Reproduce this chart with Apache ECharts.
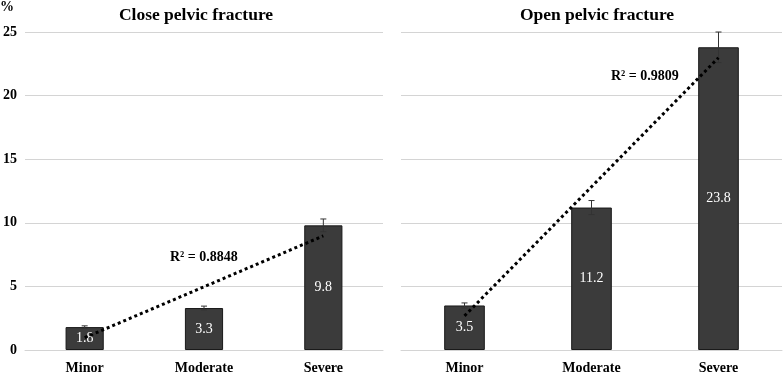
<!DOCTYPE html>
<html>
<head>
<meta charset="utf-8">
<script src="https://cdn.jsdelivr.net/npm/echarts@6/dist/echarts.min.js"></script>
<style>
  html, body { margin: 0; padding: 0; background: #fff; }
  #main { width: 784px; height: 375px; }
</style>
</head>
<body>
<div id="main"></div>
<script>
// 数据
var categories = ['Minor', 'Moderate', 'Severe'];
var closeValues = [1.8, 3.3, 9.8];
var closeErr = [0.1, 0.15, 0.5];
var closeTrend = [0.97, 4.97, 8.97];
var openValues = [3.5, 11.2, 23.8];
var openErr = [0.2, 0.55, 1.2];
var openTrend = [2.68, 12.83, 22.98];
var yTicks = [0, 5, 10, 15, 20, 25];

var serif = '"Liberation Serif", "DejaVu Serif", serif';
var barColor = '#3b3b3b';
var gridColor = '#d4d4d4';

var chart = echarts.init(document.getElementById('main'));

function errData(vals, errs) {
  return vals.map(function (v, i) { return [i, v - errs[i], v + errs[i]]; });
}

function renderErr(params, api) {
  var lo = api.coord([api.value(0), api.value(1)]);
  var hi = api.coord([api.value(0), api.value(2)]);
  var w = 3;
  var style = { stroke: '#333', lineWidth: 1 };
  return {
    type: 'group',
    children: [
      { type: 'line', shape: { x1: hi[0], y1: hi[1], x2: lo[0], y2: lo[1] }, style: style },
      { type: 'line', shape: { x1: hi[0] - w, y1: hi[1], x2: hi[0] + w, y2: hi[1] }, style: style },
      { type: 'line', shape: { x1: lo[0] - w, y1: lo[1], x2: lo[0] + w, y2: lo[1] }, style: style }
    ]
  };
}

function xAxisCfg(idx) {
  return {
    type: 'category',
    gridIndex: idx,
    data: categories,
    axisTick: { show: false },
    axisLine: { lineStyle: { color: gridColor } },
    axisLabel: { color: '#000', fontFamily: serif, fontWeight: 'bold', fontSize: 14, margin: 11 }
  };
}

function yAxisCfg(idx, showLabel) {
  return {
    type: 'value',
    gridIndex: idx,
    min: yTicks[0],
    max: yTicks[yTicks.length - 1],
    interval: 5,
    axisLine: { show: false },
    axisTick: { show: false },
    splitLine: { lineStyle: { color: gridColor } },
    axisLabel: { show: showLabel, color: '#000', fontFamily: serif, fontWeight: 'bold', fontSize: 14, margin: 8 }
  };
}

function barSeries(idx, vals) {
  return {
    type: 'bar',
    xAxisIndex: idx,
    yAxisIndex: idx,
    data: vals,
    barWidth: '32%',
    itemStyle: { color: barColor, borderColor: '#1a1a1a', borderWidth: 1 },
    label: { show: true, position: 'inside', color: '#fff', fontFamily: serif, fontSize: 14 },
    z: 2
  };
}

function trendSeries(idx, vals) {
  return {
    type: 'line',
    xAxisIndex: idx,
    yAxisIndex: idx,
    data: vals,
    symbol: 'none',
    lineStyle: { color: '#000', width: 3, type: [3, 3] },
    z: 4
  };
}

function errSeries(idx, vals, errs) {
  return {
    type: 'custom',
    xAxisIndex: idx,
    yAxisIndex: idx,
    data: errData(vals, errs),
    renderItem: renderErr,
    z: 3
  };
}

var option = {
  animation: false,
  title: [
    { text: 'Close pelvic fracture', left: 191, textAlign: 'center', top: 1,
      textStyle: { fontFamily: serif, fontWeight: 'bold', fontSize: 17.5, color: '#000' } },
    { text: 'Open pelvic fracture', left: 592, textAlign: 'center', top: 1,
      textStyle: { fontFamily: serif, fontWeight: 'bold', fontSize: 17.5, color: '#000' } }
  ],
  grid: [
    { left: 22, right: 401, top: 32, bottom: 23 },
    { left: 401, right: 2, top: 32, bottom: 23 }
  ],
  xAxis: [xAxisCfg(0), xAxisCfg(1)],
  yAxis: [yAxisCfg(0, true), yAxisCfg(1, false)],
  graphic: [
    { type: 'text', left: 0, top: 0,
      style: { text: '%', fontFamily: serif, fontWeight: 'bold', fontSize: 14, fill: '#000' } },
    { type: 'text', left: 170, top: 250,
      style: { text: 'R² = 0.8848', fontFamily: serif, fontWeight: 'bold', fontSize: 14, fill: '#000' } },
    { type: 'text', left: 611, top: 69,
      style: { text: 'R² = 0.9809', fontFamily: serif, fontWeight: 'bold', fontSize: 14, fill: '#000' } }
  ],
  series: [
    barSeries(0, closeValues),
    errSeries(0, closeValues, closeErr),
    trendSeries(0, closeTrend),
    barSeries(1, openValues),
    errSeries(1, openValues, openErr),
    trendSeries(1, openTrend)
  ]
};
chart.setOption(option);
</script>
</body>
</html>
